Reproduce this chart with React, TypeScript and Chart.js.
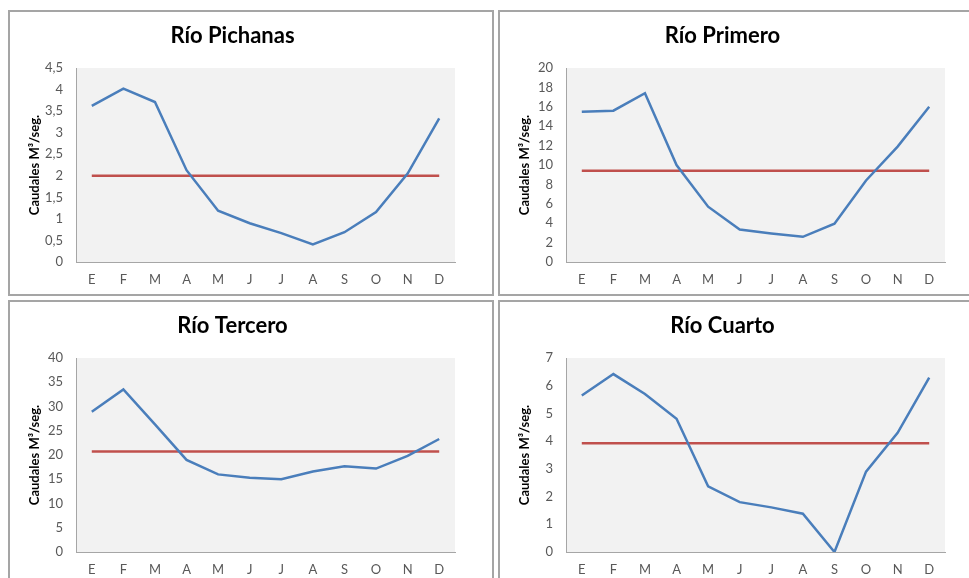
import React, { useEffect, useRef } from "react";
import { Chart, registerables } from "chart.js";

Chart.register(...registerables);

const months = ["E", "F", "M", "A", "M", "J", "J", "A", "S", "O", "N", "D"];

const pichanasFlow = [3.62, 4.02, 3.71, 2.13, 1.19, 0.9, 0.67, 0.41, 0.69, 1.16, 2.05, 3.33];
const pichanasMean = [2, 2, 2, 2, 2, 2, 2, 2, 2, 2, 2, 2];

const primeroFlow = [15.5, 15.6, 17.4, 10.0, 5.7, 3.35, 2.95, 2.6, 3.95, 8.4, 11.9, 16.0];
const primeroMean = [9.4, 9.4, 9.4, 9.4, 9.4, 9.4, 9.4, 9.4, 9.4, 9.4, 9.4, 9.4];

const terceroFlow = [28.9, 33.5, 26.3, 19.0, 16.0, 15.3, 15.0, 16.6, 17.7, 17.2, 19.8, 23.3];
const terceroMean = [20.7, 20.7, 20.7, 20.7, 20.7, 20.7, 20.7, 20.7, 20.7, 20.7, 20.7, 20.7];

const cuartoFlow = [5.65, 6.42, 5.7, 4.81, 2.37, 1.8, 1.61, 1.38, 0, 2.9, 4.3, 6.29];
const cuartoMean = [3.92, 3.92, 3.92, 3.92, 3.92, 3.92, 3.92, 3.92, 3.92, 3.92, 3.92, 3.92];

const yAxisTitle = "Caudales M³/seg.";
const FONT = "Lato, 'Noto Sans', sans-serif";

const plotBg = {
  id: "plotBg",
  beforeDraw(chart: any) {
    const { ctx, chartArea } = chart;
    if (!chartArea) return;
    ctx.save();
    ctx.fillStyle = "#f2f2f2";
    ctx.fillRect(chartArea.left, chartArea.top, chartArea.right - chartArea.left, chartArea.bottom - chartArea.top);
    ctx.restore();
  },
};

type PanelProps = {
  left: number;
  top: number;
  title: string;
  flow: number[];
  mean: number[];
  max: number;
  step: number;
};

const W = 486;
const H = 286;
const B = 2;

function Panel({ left, top, title, flow, mean, max, step }: PanelProps) {
  const ref = useRef<HTMLCanvasElement | null>(null);
  useEffect(() => {
    if (!ref.current) return;
    const chart = new Chart(ref.current, {
      type: "line",
      data: {
        labels: months,
        datasets: [
          {
            data: mean,
            borderColor: "#c0504d",
            borderWidth: 2.5,
            pointRadius: 0,
            tension: 0,
            order: 2,
          },
          {
            data: flow,
            borderColor: "#4a7ebb",
            borderWidth: 2.5,
            pointRadius: 0,
            tension: 0,
            order: 1,
          },
        ],
      },
      plugins: [plotBg],
      options: {
        animation: false,
        responsive: false,
        devicePixelRatio: 1,
        layout: { padding: { left: 0, right: 37, top: 0, bottom: 0 } },
        plugins: {
          legend: { display: false },
          tooltip: { enabled: false },
          title: {
            display: true,
            text: title,
            color: "#000000",
            font: { family: FONT, size: 22, weight: "bold" },
            padding: { top: 11, bottom: 18.6 },
          },
        },
        scales: {
          x: {
            offset: true,
            grid: { display: false, drawTicks: false, offset: true },
            border: { display: true, color: "#a6a6a6", width: 1 },
            ticks: {
              color: "#595959",
              font: { family: FONT, size: 13 },
              padding: 10,
              maxRotation: 0,
              autoSkip: false,
            },
            afterFit: (s: any) => {
              s.height = 32;
            },
          },
          y: {
            min: 0,
            max: max,
            grid: { display: false, drawTicks: false },
            border: { display: true, color: "#a6a6a6", width: 1 },
            ticks: {
              stepSize: step,
              color: "#595959",
              font: { family: FONT, size: 13 },
              padding: 13,
              callback: (v: any) => String(v).replace(".", ","),
            },
            title: {
              display: true,
              text: yAxisTitle,
              color: "#000000",
              font: { family: FONT, size: 13, weight: "bold" },
              padding: { top: 17, bottom: 0 },
            },
            afterFit: (s: any) => {
              s.width = 66;
            },
          },
        },
      },
    });
    return () => chart.destroy();
  }, []);
  return (
    <div
      style={{
        position: "absolute",
        left,
        top,
        width: W,
        height: H,
        boxSizing: "border-box",
        border: `${B}px solid #a5a5a5`,
        background: "#ffffff",
      }}
    >
      <canvas
        ref={ref}
        width={W - 2 * B}
        height={H - 2 * B}
        style={{ display: "block", width: W - 2 * B, height: H - 2 * B }}
      />
    </div>
  );
}

export default function App() {
  return (
    <div
      style={{
        position: "fixed",
        left: 0,
        top: 0,
        width: 969,
        height: 578,
        overflow: "hidden",
        background: "#ffffff",
      }}
    >
      <Panel left={8} top={10} title="Río Pichanas" flow={pichanasFlow} mean={pichanasMean} max={4.5} step={0.5} />
      <Panel left={498} top={10} title="Río Primero" flow={primeroFlow} mean={primeroMean} max={20} step={2} />
      <Panel left={8} top={300} title="Río Tercero" flow={terceroFlow} mean={terceroMean} max={40} step={5} />
      <Panel left={498} top={300} title="Río Cuarto" flow={cuartoFlow} mean={cuartoMean} max={7} step={1} />
    </div>
  );
}
